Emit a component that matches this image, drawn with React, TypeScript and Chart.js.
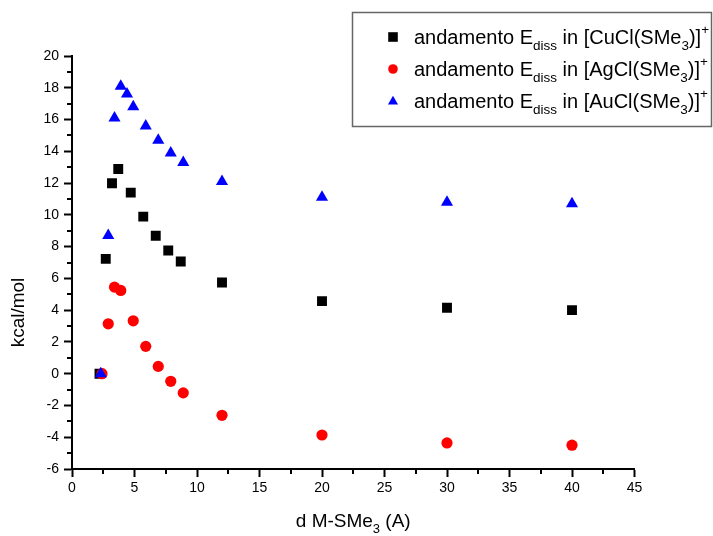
import React, { useEffect, useRef } from 'react';
import { Chart, registerables } from 'chart.js';

Chart.register(...registerables);

// ---- data ----
const cuX = [2.2, 2.7, 3.2, 3.7, 4.7, 5.7, 6.7, 7.7, 8.7, 12, 20, 30, 40];
const cuY = [0, 7.23, 11.99, 12.89, 11.4, 9.89, 8.68, 7.76, 7.06, 5.74, 4.57, 4.15, 4.0];
const agX = [2.4, 2.9, 3.4, 3.9, 4.9, 5.9, 6.9, 7.9, 8.9, 12, 20, 30, 40];
const agY = [0, 3.14, 5.45, 5.24, 3.33, 1.72, 0.46, -0.48, -1.21, -2.62, -3.86, -4.36, -4.5];
const auX = [2.3, 2.9, 3.4, 3.9, 4.4, 4.9, 5.9, 6.9, 7.9, 8.9, 12, 20, 30, 40];
const auY = [0, 8.7, 16.1, 18.1, 17.6, 16.8, 15.6, 14.7, 13.9, 13.3, 12.1, 11.1, 10.8, 10.7];

const seriesMetal = ['Cu', 'Ag', 'Au'];
const seriesColors = ['#000000', '#ff0000', '#0000ff'];
const seriesStyles = ['rect', 'circle', 'triangle'];

const xTicksMajor = [0, 5, 10, 15, 20, 25, 30, 35, 40, 45];
const xMinor = [2.5, 7.5, 12.5, 17.5, 22.5, 27.5, 32.5, 37.5, 42.5];
const yMinor = [-5, -3, -1, 1, 3, 5, 7, 9, 11, 13, 15, 17, 19];

const FONT = '"Liberation Sans", Arial, sans-serif';

type Part = { t: string; m: 'n' | 'sub' | 'sup' };

function drawRich(ctx: CanvasRenderingContext2D, x: number, y: number, parts: Part[], size: number, small: number) {
  let cx = x;
  for (const p of parts) {
    const fs = p.m === 'n' ? size : small;
    ctx.font = `${fs}px ${FONT}`;
    const dy = p.m === 'sub' ? size * 0.3 : p.m === 'sup' ? -size * 0.5 : 0;
    ctx.fillText(p.t, cx, y + dy);
    cx += ctx.measureText(p.t).width;
  }
  return cx;
}

function richWidth(ctx: CanvasRenderingContext2D, parts: Part[], size: number, small: number) {
  let w = 0;
  for (const p of parts) {
    ctx.font = `${p.m === 'n' ? size : small}px ${FONT}`;
    w += ctx.measureText(p.t).width;
  }
  return w;
}

function drawMarker(ctx: CanvasRenderingContext2D, style: string, x: number, y: number, r: number, color: string) {
  ctx.fillStyle = color;
  ctx.beginPath();
  if (style === 'rect') {
    ctx.rect(x - r, y - r, 2 * r, 2 * r);
  } else if (style === 'circle') {
    ctx.arc(x, y, r, 0, Math.PI * 2);
  } else {
    ctx.moveTo(x, y - r * 1.1);
    ctx.lineTo(x + r * 1.05, y + r * 0.75);
    ctx.lineTo(x - r * 1.05, y + r * 0.75);
    ctx.closePath();
  }
  ctx.fill();
}

const decorPlugin = {
  id: 'decor',
  afterDraw(chart: any) {
    const ctx: CanvasRenderingContext2D = chart.ctx;
    const xs = chart.scales.x;
    const ys = chart.scales.y;
    const area = chart.chartArea;
    ctx.save();
    // minor ticks
    ctx.strokeStyle = '#000';
    ctx.lineWidth = 2;
    ctx.beginPath();
    for (const v of xMinor) {
      const px = Math.round(xs.getPixelForValue(v));
      ctx.moveTo(px, area.bottom);
      ctx.lineTo(px, area.bottom + 5);
    }
    for (const v of yMinor) {
      const py = Math.round(ys.getPixelForValue(v));
      ctx.moveTo(area.left, py);
      ctx.lineTo(area.left - 5, py);
    }
    ctx.stroke();

    // x axis title with subscript
    ctx.fillStyle = '#000';
    ctx.textBaseline = 'alphabetic';
    const xt: Part[] = [
      { t: 'd M-SMe', m: 'n' },
      { t: '3', m: 'sub' },
      { t: ' (A)', m: 'n' },
    ];
    const w = richWidth(ctx, xt, 19, 13);
    drawRich(ctx, (area.left + area.right) / 2 - w / 2, area.bottom + 58, xt, 19, 13);

    // y axis title
    ctx.save();
    ctx.translate(area.left - 53, (area.top + area.bottom) / 2 + 50);
    ctx.rotate(-Math.PI / 2);
    ctx.font = `19px ${FONT}`;
    ctx.textAlign = 'center';
    ctx.textBaseline = 'middle';
    ctx.fillText('kcal/mol', 0, 0);
    ctx.restore();

    // legend
    const lx = 352.5, ly = 12.5, lw = 359, lh = 114;
    ctx.fillStyle = '#fff';
    ctx.fillRect(lx, ly, lw, lh);
    ctx.strokeStyle = '#666';
    ctx.lineWidth = 1.5;
    ctx.strokeRect(lx, ly, lw, lh);
    ctx.textAlign = 'left';
    ctx.textBaseline = 'alphabetic';
    seriesMetal.forEach((m, i) => {
      const base = 44 + i * 32;
      drawMarker(ctx, seriesStyles[i], 393, base - 7, 4.8, seriesColors[i]);
      ctx.fillStyle = '#000';
      drawRich(ctx, 414, base, [
        { t: 'andamento E', m: 'n' },
        { t: 'diss', m: 'sub' },
        { t: ' in [' + m + 'Cl(SMe', m: 'n' },
        { t: '3', m: 'sub' },
        { t: ')]', m: 'n' },
        { t: '+', m: 'sup' },
      ], 20, 13.5);
    });
    ctx.restore();
  },
};

function toPts(xs: number[], ys: number[]) {
  return xs.map((x, i) => ({ x, y: ys[i] }));
}

export default function App() {
  const ref = useRef<HTMLCanvasElement | null>(null);
  useEffect(() => {
    if (!ref.current) return;
    const chart = new Chart(ref.current, {
      type: 'scatter',
      data: {
        datasets: [
          {
            label: 'Cu',
            data: toPts(cuX, cuY),
            pointStyle: 'rect',
            pointRadius: 7,
            backgroundColor: seriesColors[0],
            borderColor: seriesColors[0],
            borderWidth: 0,
            order: 3,
          },
          {
            label: 'Ag',
            data: toPts(agX, agY),
            pointStyle: 'circle',
            pointRadius: 5.6,
            backgroundColor: seriesColors[1],
            borderColor: seriesColors[1],
            borderWidth: 0,
            order: 2,
          },
          {
            label: 'Au',
            data: toPts(auX, auY),
            pointStyle: 'triangle',
            pointRadius: 7,
            backgroundColor: seriesColors[2],
            borderColor: seriesColors[2],
            borderWidth: 0,
            order: 1,
          },
        ],
      },
      options: {
        animation: false,
        responsive: false,
        layout: { padding: { left: 0, top: 56, right: 78.5, bottom: 0 } },
        plugins: { legend: { display: false }, tooltip: { enabled: false } },
        scales: {
          x: {
            type: 'linear',
            min: 0,
            max: 45,
            afterFit: (s: any) => { s.height = 67; },
            afterBuildTicks: (s: any) => { s.ticks = xTicksMajor.map((v) => ({ value: v })); },
            ticks: { color: '#000', font: { family: FONT, size: 14 }, padding: 3, maxRotation: 0 },
            grid: { display: true, drawOnChartArea: false, drawTicks: true, tickLength: 8, tickWidth: 2, tickColor: '#000' },
            border: { display: true, color: '#000', width: 2 },
          },
          y: {
            type: 'linear',
            min: -6,
            max: 20,
            afterFit: (s: any) => { s.width = 72; },
            ticks: { stepSize: 2, color: '#000', font: { family: FONT, size: 14 }, padding: 5 },
            grid: { display: true, drawOnChartArea: false, drawTicks: true, tickLength: 8, tickWidth: 2, tickColor: '#000' },
            border: { display: true, color: '#000', width: 2 },
          },
        },
      },
      plugins: [decorPlugin],
    });
    return () => chart.destroy();
  }, []);
  return (
    <div style={{ position: 'fixed', left: 0, top: 0, width: 713, height: 536, background: '#fff' }}>
      <canvas ref={ref} width={713} height={536} style={{ width: 713, height: 536, display: 'block' }} />
    </div>
  );
}
